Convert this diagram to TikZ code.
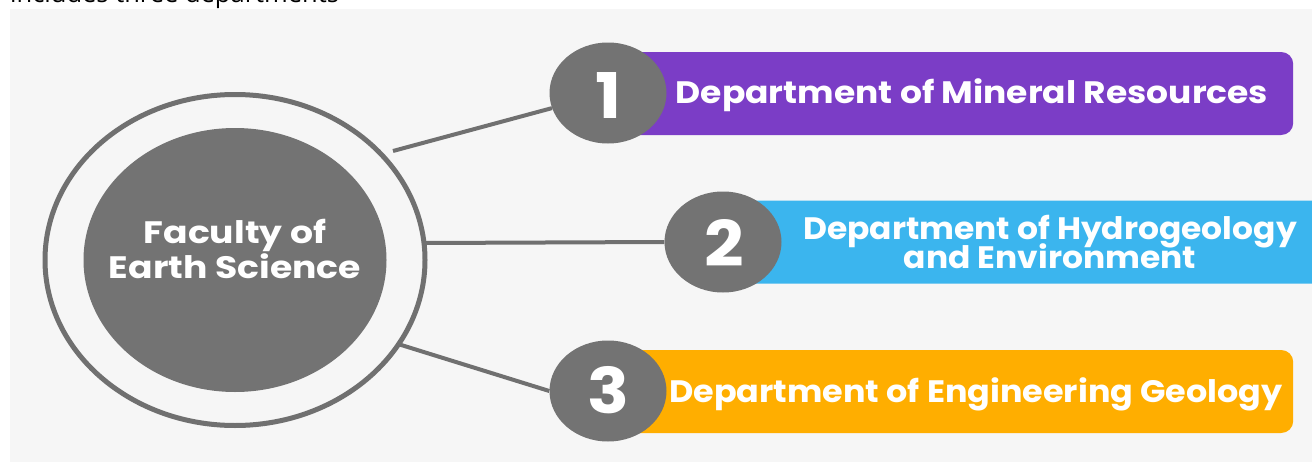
\documentclass[tikz,border=0pt]{standalone}
\usepackage{fontspec}
\setmainfont{Poppins}
\newfontfamily\topfont{Open Sans}
\newfontfamily\stA{Poppins}[FakeStretch=1.113]
\newfontfamily\stB{Poppins}[FakeStretch=1.062]
\newfontfamily\stC{Poppins}[FakeStretch=1.078]
\newfontfamily\stF{Poppins}[FakeStretch=1.167]
\newfontfamily\stN{Poppins}[FakeStretch=1.1]
\usetikzlibrary{shapes.geometric,backgrounds}
\definecolor{panelgray}{HTML}{F6F6F6}
\definecolor{darkgray}{HTML}{737373}
\definecolor{ringgray}{HTML}{707070}
\definecolor{barpurple}{HTML}{7B3DC6}
\definecolor{barblue}{HTML}{3BB5EE}
\definecolor{barorange}{HTML}{FFAE00}
\tikzset{
  numcircle/.style={ellipse, fill=darkgray, minimum width=117pt, minimum height=101pt, inner sep=0pt},
  numtext/.style={text=white, anchor=base, inner sep=0pt, font=\stN\bfseries\fontsize{63}{63}\selectfont},
  bar/.style={rounded corners=12pt, minimum height=83pt, inner sep=0pt, anchor=west},
  bartext/.style={text=white, anchor=base, inner sep=0pt},
  conn/.style={draw=ringgray, line width=4pt}
}
\begin{document}
\begin{tikzpicture}[x=1pt,y=-1pt]
\useasboundingbox (0,0) rectangle (1312,463);
\begin{pgfonlayer}{background}
\fill[white] (0,0) rectangle (1312,463);
\fill[panelgray] (10,9) rectangle (1312,462);
\end{pgfonlayer}
\node[anchor=base west, inner sep=0pt, font=\topfont\fontsize{25.5}{27}\selectfont] (title) at (10,2.5) {includes three departments};
% central faculty
\node[ellipse, draw=ringgray, line width=5pt, minimum width=380pt, minimum height=331pt, inner sep=0pt] (outer) at (235,260) {};
\node[ellipse, fill=darkgray, minimum width=303pt, minimum height=264pt, inner sep=0pt] (inner) at (235,260) {};
\node[bartext, font=\stF\bfseries\fontsize{31}{35}\selectfont] (fac1) at (235,243) {Faculty of};
\node[bartext, font=\stF\bfseries\fontsize{31}{35}\selectfont] (fac2) at (235,278) {Earth Science};
% connectors
\coordinate (s1) at (393,151);
\coordinate (s2) at (425,243);
\coordinate (s3) at (398,344);
% bars
\node[bar, fill=barpurple, minimum width=685pt] (b1) at (608,93.5) {};
\node[bar, fill=barblue, minimum width=720pt] (b2) at (723,242) {};
\node[bar, fill=barorange, minimum width=685pt] (b3) at (608,391.5) {};
% number circles
\node[numcircle] (c1) at (608,93) {};
\node[numcircle] (c2) at (723,242) {};
\node[numcircle] (c3) at (608,391) {};
\node[numtext] (n1) at (609,118) {1};
\node[numtext] (n2) at (724,266) {2};
\node[numtext] (n3) at (608,413) {3};
% bar texts
\node[bartext, font=\stA\bfseries\fontsize{31}{35}\selectfont] (t1) at (972,103) {Department of Mineral Resources};
\node[bartext, font=\stB\bfseries\fontsize{31}{35}\selectfont] (t2a) at (1050,239) {Department of Hydrogeology};
\node[bartext, font=\stB\bfseries\fontsize{31}{35}\selectfont] (t2b) at (1050,268) {and Environment};
\node[bartext, font=\stC\bfseries\fontsize{31}{35}\selectfont] (t3) at (976,402) {Department of Engineering Geology};
\begin{pgfonlayer}{background}
\draw[conn] (s1) -- (c1);
\draw[conn] (s2) -- (c2.west);
\draw[conn] (s3) -- (c3.west);
\end{pgfonlayer}
\end{tikzpicture}
\end{document}
